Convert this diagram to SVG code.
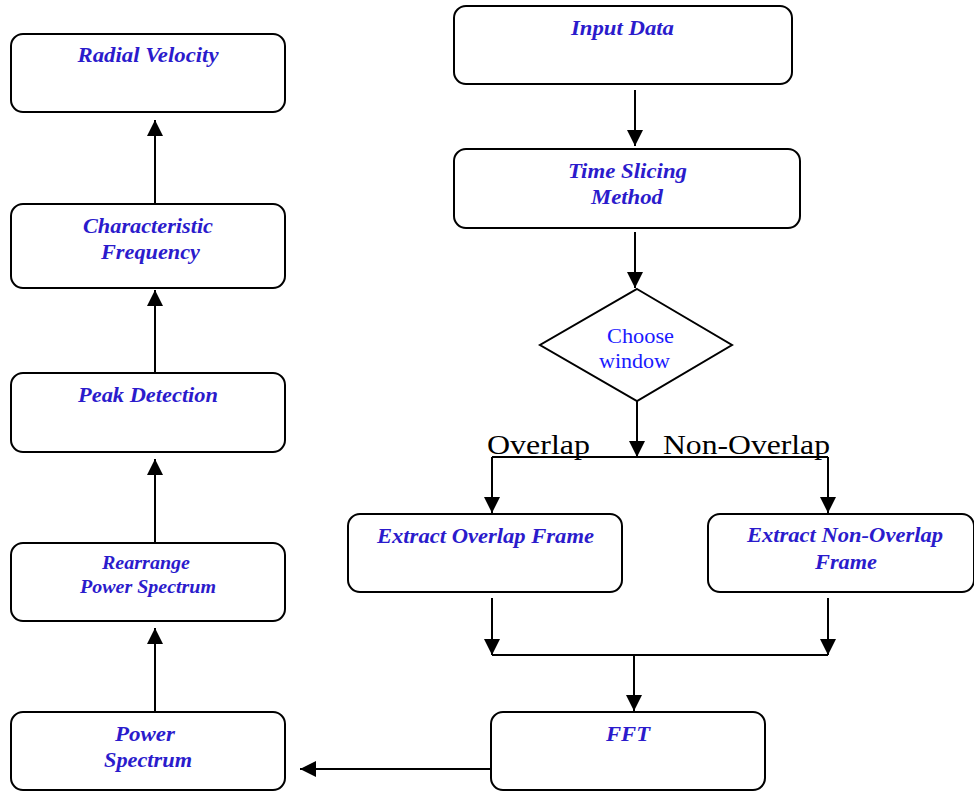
<svg xmlns="http://www.w3.org/2000/svg" width="974" height="792" viewBox="0 0 974 792">
<defs>
<marker id="ah" markerUnits="userSpaceOnUse" markerWidth="16" markerHeight="16" viewBox="0 0 16 16" refX="16" refY="8" orient="auto">
<path d="M0,0 L16,8 L0,16 Z" fill="#000"/>
</marker>
</defs>
<style>
.box{fill:#fff;stroke:#000;stroke-width:2}
.t{font-family:"Liberation Serif","Times New Roman",serif;font-weight:bold;font-style:italic;font-size:21px;fill:#2b1bcc;text-anchor:middle}
.d{font-family:"Liberation Serif","Times New Roman",serif;font-size:21px;fill:#1a1aff;text-anchor:middle}
.lbl{font-family:"Liberation Serif","Times New Roman",serif;font-size:28px;fill:#000}
.c{fill:none;stroke:#000;stroke-width:2}
</style>
<g id="connectors">
<line class="c" x1="155" y1="203" x2="155" y2="120" marker-end="url(#ah)"/>
<line class="c" x1="155" y1="373" x2="155" y2="290" marker-end="url(#ah)"/>
<line class="c" x1="155" y1="543" x2="155" y2="459" marker-end="url(#ah)"/>
<line class="c" x1="155" y1="712" x2="155" y2="628" marker-end="url(#ah)"/>
<line class="c" x1="635" y1="90" x2="635" y2="146" marker-end="url(#ah)"/>
<line class="c" x1="635" y1="232" x2="635" y2="288" marker-end="url(#ah)"/>
<line class="c" x1="637" y1="401" x2="637" y2="457" marker-end="url(#ah)"/>
<polyline class="c" points="492,457 828,457"/>
<line class="c" x1="492" y1="457" x2="492" y2="513" marker-end="url(#ah)"/>
<line class="c" x1="828" y1="457" x2="828" y2="513" marker-end="url(#ah)"/>
<line class="c" x1="492" y1="598" x2="492" y2="655" marker-end="url(#ah)"/>
<line class="c" x1="828" y1="598" x2="828" y2="655" marker-end="url(#ah)"/>
<polyline class="c" points="492,655 828,655"/>
<line class="c" x1="634" y1="655" x2="634" y2="711" marker-end="url(#ah)"/>
<line class="c" x1="491" y1="769" x2="300" y2="769" marker-end="url(#ah)"/>
<text class="lbl" x="487" y="454" textLength="103" lengthAdjust="spacingAndGlyphs">Overlap</text>
<text class="lbl" x="663" y="454" textLength="167" lengthAdjust="spacingAndGlyphs">Non-Overlap</text>
</g>
<g id="radial">
<rect class="box" x="11" y="34" width="274" height="78" rx="12"/>
<text class="t" x="148" y="62" textLength="141" lengthAdjust="spacingAndGlyphs">Radial Velocity</text>
</g>
<g id="charfreq">
<rect class="box" x="11" y="204" width="274" height="84" rx="12"/>
<text class="t" x="148" y="233" textLength="130" lengthAdjust="spacingAndGlyphs">Characteristic</text>
<text class="t" x="150.5" y="259" textLength="99" lengthAdjust="spacingAndGlyphs">Frequency</text>
</g>
<g id="peak">
<rect class="box" x="11" y="373" width="274" height="79" rx="12"/>
<text class="t" x="148" y="402" textLength="140" lengthAdjust="spacingAndGlyphs">Peak Detection</text>
</g>
<g id="rearrange">
<rect class="box" x="11" y="543" width="274" height="78" rx="12"/>
<text class="t" x="146" y="569" style="font-size:19px" textLength="88" lengthAdjust="spacingAndGlyphs">Rearrange</text>
<text class="t" x="148" y="593" style="font-size:19px" textLength="136" lengthAdjust="spacingAndGlyphs">Power Spectrum</text>
</g>
<g id="powerspec">
<rect class="box" x="11" y="712" width="274" height="78" rx="12"/>
<text class="t" x="145" y="741" textLength="60" lengthAdjust="spacingAndGlyphs">Power</text>
<text class="t" x="148" y="767" textLength="88" lengthAdjust="spacingAndGlyphs">Spectrum</text>
</g>
<g id="input">
<rect class="box" x="454" y="6" width="338" height="78" rx="12"/>
<text class="t" x="622.5" y="35" textLength="103" lengthAdjust="spacingAndGlyphs">Input Data</text>
</g>
<g id="timeslice">
<rect class="box" x="454" y="149" width="346" height="79" rx="12"/>
<text class="t" x="627.5" y="178" textLength="119" lengthAdjust="spacingAndGlyphs">Time Slicing</text>
<text class="t" x="627" y="204" textLength="72" lengthAdjust="spacingAndGlyphs">Method</text>
</g>
<g id="choose">
<polygon points="637,289 732,345 637,401 540,345" fill="#fff" stroke="#000" stroke-width="2"/>
<text class="d" x="640.5" y="343" textLength="67" lengthAdjust="spacingAndGlyphs">Choose</text>
<text class="d" x="634.5" y="368" textLength="71" lengthAdjust="spacingAndGlyphs">window</text>
</g>
<g id="extractov">
<rect class="box" x="348" y="514" width="274" height="78" rx="12"/>
<text class="t" x="485.5" y="543" textLength="217" lengthAdjust="spacingAndGlyphs">Extract Overlap Frame</text>
</g>
<g id="extractnon">
<rect class="box" x="708" y="514" width="266" height="78" rx="12"/>
<text class="t" x="845" y="542" textLength="196" lengthAdjust="spacingAndGlyphs">Extract Non-Overlap</text>
<text class="t" x="846" y="569" textLength="62" lengthAdjust="spacingAndGlyphs">Frame</text>
</g>
<g id="fft">
<rect class="box" x="491" y="712" width="274" height="78" rx="12"/>
<text class="t" x="628" y="741" textLength="44" lengthAdjust="spacingAndGlyphs">FFT</text>
</g>
</svg>
